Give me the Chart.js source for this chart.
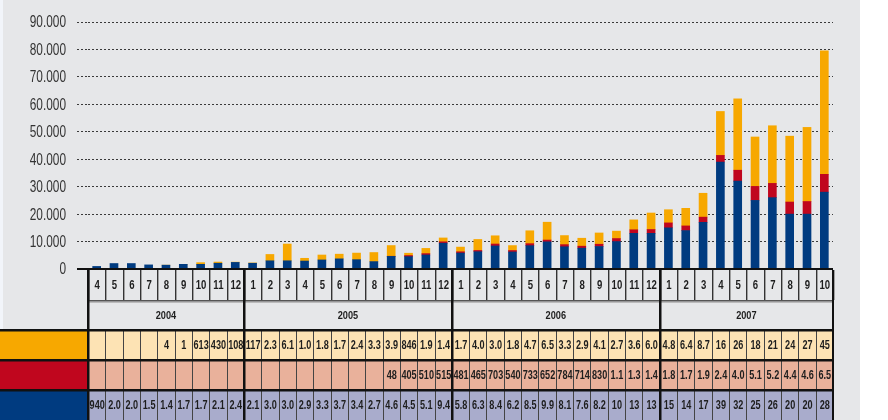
<!DOCTYPE html>
<html>
<head>
<meta charset="utf-8">
<script src="https://cdn.jsdelivr.net/npm/chart.js@4/dist/chart.umd.min.js"></script>
<style>
  html, body { margin: 0; padding: 0; background: #fff; }
  #wrap { width: 888px; height: 420px; }
</style>
</head>
<body>
<div id="wrap"><canvas id="chart" width="888" height="420"></canvas></div>
<script>
// months shown on the x axis (2004-4 .. 2007-10)
const months = [4, 5, 6, 7, 8, 9, 10, 11, 12,
  1, 2, 3, 4, 5, 6, 7, 8, 9, 10, 11, 12,
  1, 2, 3, 4, 5, 6, 7, 8, 9, 10, 11, 12,
  1, 2, 3, 4, 5, 6, 7, 8, 9, 10];
const years = ['2004', '2005', '2006', '2007'];
const yearCounts = [9, 12, 12, 10];

// series values (top row of table = orange, middle = red, bottom = blue)
const orange = [null, null, null, null, 4, 1, 613, 430, 108,
  117, 2300, 6100, 1000, 1800, 1700, 2400, 3300, 3900, 846, 1900, 1400,
  1700, 4000, 3000, 1800, 4700, 6500, 3300, 2900, 4100, 2700, 3600, 6000,
  4800, 6400, 8700, 16000, 26000, 18000, 21000, 24000, 27000, 45000];
const red = [null, null, null, null, null, null, null, null, null,
  null, null, null, null, null, null, null, null, 48, 405, 510, 515,
  481, 465, 703, 540, 733, 652, 784, 714, 830, 1100, 1300, 1400,
  1800, 1700, 1900, 2400, 4000, 5100, 5200, 4400, 4600, 6500];
const blue = [940, 2000, 2000, 1500, 1400, 1700, 1700, 2100, 2400,
  2100, 3000, 3000, 2900, 3300, 3700, 3400, 2700, 4600, 4500, 5100, 9400,
  5800, 6300, 8400, 6200, 8500, 9900, 8100, 7600, 8200, 10000, 13000, 13000,
  15000, 14000, 17000, 39000, 32000, 25000, 26000, 20000, 20000, 28000];

const COL_ORANGE = '#f7a800';
const COL_RED = '#c0061e';
const COL_BLUE = '#003b80';
const BG = '#e6e7e9';
const FONT = "'Liberation Sans', Arial, sans-serif";

const labels = [];
let yi = 0, cnt = 0;
months.forEach(m => {
  labels.push(years[yi] + '-' + m);
  cnt++;
  if (cnt === yearCounts[yi]) { yi++; cnt = 0; }
});

// table numbers: raw below 1000, thousands with one decimal, whole thousands from 10.000
const fmt = v => {
  if (v === null || v === undefined) return '';
  if (v < 1000) return String(v);
  if (v < 10000) return (v / 1000).toFixed(1);
  return String(Math.round(v / 1000));
};

// condensed look: squeeze text horizontally
function narrowText(c, s, x, y, sx) {
  c.save();
  c.translate(x, y);
  c.scale(sx, 1);
  c.fillText(s, 0, 0);
  c.restore();
}

const tablePlugin = {
  id: 'tablePlugin',
  beforeDraw(chart) {
    const c = chart.ctx;
    c.save();
    c.fillStyle = '#fff';
    c.fillRect(0, 0, chart.width, chart.height);
    c.fillStyle = BG;
    c.fillRect(0, 0, 860, chart.height);
    c.fillStyle = '#f2f5fa';
    c.fillRect(0, 0, 3, 330);
    c.restore();
  },
  afterDatasetsDraw(chart) {
    const c = chart.ctx;
    const y = chart.scales.y;
    const y0 = y.getPixelForValue(0);
    c.save();
    c.strokeStyle = '#111';
    c.lineWidth = 2;
    c.beginPath();
    c.moveTo(77, y0);
    c.lineTo(chart.chartArea.right, y0);
    c.stroke();

    // y tick labels
    c.fillStyle = '#333';
    c.font = '16px ' + FONT;
    c.textAlign = 'right';
    c.textBaseline = 'middle';
    y.ticks.forEach(t => {
      const s = t.value === 0 ? '0' : (t.value / 1000) + '.000';
      narrowText(c, s, 66, y.getPixelForValue(t.value) + 1, 0.74);
    });
    c.restore();
  },
  afterDraw(chart) {
    const c = chart.ctx;
    const x = chart.scales.x;
    const area = chart.chartArea;
    const n = months.length;
    const colW = (area.right - area.left) / n;
    const left = i => x.getPixelForValue(i) - colW / 2;
    const top = area.bottom + 1;
    const rMonth = top + 30, rYear = top + 60;
    const rows = [rYear, rYear + 30, rYear + 60, rYear + 90];
    const rowBg = ['#fde3b4', '#e9b19b', '#a9accc'];
    const rowKey = [COL_ORANGE, COL_RED, COL_BLUE];
    const series = [orange, red, blue];

    c.save();
    // table backgrounds and legend blocks
    for (let r = 0; r < 3; r++) {
      c.fillStyle = rowBg[r];
      c.fillRect(area.left, rows[r], area.right - area.left, 30);
      c.fillStyle = rowKey[r];
      c.fillRect(0, rows[r], area.left, 30);
    }

    // month cells
    for (let i = 0; i <= n; i++) {
      const xx = Math.round(left(i));
      c.fillStyle = '#a0a0a0';
      c.fillRect(xx + 1, top, 1, 30);
      c.fillStyle = '#333';
      c.fillRect(xx, top, 1, 30);
      c.fillStyle = '#444';
      c.fillRect(xx, rYear, 1, 90);
    }
    c.fillStyle = '#555';
    c.fillRect(area.left, rMonth, area.right - area.left, 1.5);
    c.fillStyle = '#909090';
    c.fillRect(area.left, rMonth + 1.5, area.right - area.left, 1);

    c.fillStyle = '#1e1e1e';
    c.textAlign = 'center';
    c.textBaseline = 'middle';
    c.font = 'bold 12px ' + FONT;
    months.forEach((m, i) => narrowText(c, String(m), x.getPixelForValue(i) + 0.5, top + 16, 0.8));

    // year cells
    c.font = 'bold 11.5px ' + FONT;
    let start = 0;
    years.forEach((yr, k) => {
      const a = left(start), b = left(start + yearCounts[k]);
      narrowText(c, yr, (a + b) / 2, rMonth + 16, 0.8);
      start += yearCounts[k];
    });

    // table values
    c.font = 'bold 12px ' + FONT;
    for (let r = 0; r < 3; r++) {
      series[r].forEach((v, i) => {
        narrowText(c, fmt(v), x.getPixelForValue(i) + 0.5, rows[r] + 16, 0.76);
      });
    }

    // heavy lines: row separators and year borders
    c.fillStyle = '#111';
    c.fillRect(0, rYear - 1, area.right, 2.5);
    c.fillRect(0, rows[1] - 1, area.right, 2.5);
    c.fillRect(0, rows[2] - 1, area.right, 2.5);
    start = 0;
    years.forEach((yr, k) => {
      c.fillRect(Math.round(left(start)) - 1, top, 2.5, 420 - top);
      start += yearCounts[k];
    });
    c.fillRect(Math.round(left(n)) - 1, top, 2, 420 - top);
    c.restore();
  }
};

new Chart(document.getElementById('chart'), {
  type: 'bar',
  data: {
    labels: labels,
    datasets: [
      { label: 'blue', data: blue, backgroundColor: COL_BLUE, barThickness: 8 },
      { label: 'red', data: red, backgroundColor: COL_RED, barThickness: 8 },
      { label: 'orange', data: orange, backgroundColor: COL_ORANGE, barThickness: 8 }
    ]
  },
  options: {
    responsive: false,
    animation: false,
    layout: { padding: { top: 22, bottom: 151, left: 0, right: 55 } },
    plugins: { legend: { display: false }, tooltip: { enabled: false } },
    scales: {
      x: { stacked: true, display: false, offset: true },
      y: {
        stacked: true,
        min: 0,
        max: 90000,
        afterFit(scale) { scale.width = 88; },
        ticks: { stepSize: 10000, display: false },
        grid: {
          color: ctx => ctx.tick && ctx.tick.value === 0 ? 'rgba(0,0,0,0)' : '#3a3a3a',
          lineWidth: 1,
          tickLength: 11,
          tickBorderDash: [2, 2],
          tickColor: ctx => ctx.tick && ctx.tick.value === 0 ? 'rgba(0,0,0,0)' : '#3a3a3a'
        },
        border: { display: false, dash: [2, 2] }
      }
    }
  },
  plugins: [tablePlugin]
});
</script>
</body>
</html>
